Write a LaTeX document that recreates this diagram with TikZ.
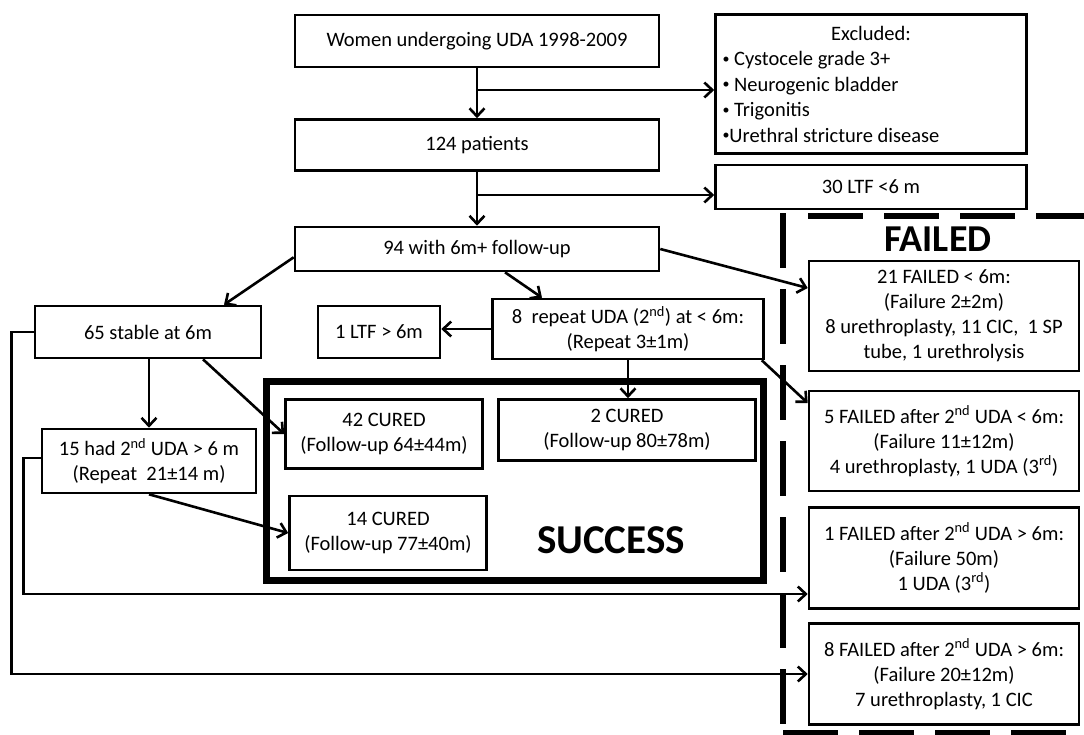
\documentclass[tikz,border=0pt]{standalone}
\usepackage{fontspec}
\setmainfont{Carlito}
\usetikzlibrary{arrows.meta}
\newcommand{\boxfont}{\fontsize{20.5}{25}\selectfont}
\newcommand{\smallbullet}{\raisebox{0.12em}{\fontsize{14}{14}\selectfont •}}

\begin{document}
\begin{tikzpicture}[x=1pt,y=-1pt]
\tikzstyle{block} = [rectangle, draw, line width=2.6pt, align=center,
inner sep=0pt, font=\boxfont]
\tikzstyle{line} = [draw, line width=2.6pt, -{Straight Barb[length=8pt,width=15pt]}]
\tikzstyle{succframe} = [draw, line width=7pt]
\tikzstyle{faildash} = [draw, line width=6pt, dash pattern=on 55pt off 21pt]
\tikzstyle{bigword} = [font=\fontsize{41}{41}\selectfont\bfseries]

\useasboundingbox (0,0) rectangle (1084,734);

% top column
\node [block, minimum width=364pt, minimum height=52pt] (women) at (477,41) {Women undergoing UDA 1998-2009};
\node [block, minimum width=364pt, minimum height=51pt] (pat124) at (477,145) {124 patients};
\node [block, minimum width=364pt, minimum height=44pt] (fu94) at (477,249) {94 with 6m+ follow-up};
\node [block, minimum width=311pt, minimum height=139pt, text width=297pt, align=flush left,
font=\fontsize{20.5}{25.5}\selectfont] (excl) at (871,84)
{\makebox[\linewidth]{Excluded:}\\ \smallbullet\ Cystocele grade 3+\\ \smallbullet\ Neurogenic bladder\\ \smallbullet\ Trigonitis\\ \smallbullet Urethral stricture disease};
\node [block, minimum width=311pt, minimum height=44pt] (ltf30) at (871,187) {30 LTF <6 m};

% second row
\node [block, minimum width=226pt, minimum height=52pt] (stable65) at (148,332) {65 stable at 6m};
\node [block, minimum width=122pt, minimum height=52pt] (ltf1) at (379,332) {1 LTF > 6m};
\node [block, minimum width=271pt, minimum height=60pt] (rep8) at (628,329) {8 \ repeat UDA (2\textsuperscript{nd}) at < 6m:\\(Repeat 3±1m)};

% success
\draw [succframe] (266.5,381.5) rectangle (763.5,580.5);
\node [block, minimum width=197pt, minimum height=69pt] (cured42) at (384,434) {42 CURED\\(Follow-up 64±44m)};
\node [block, minimum width=257pt, minimum height=61pt] (cured2) at (627,430) {2 CURED\\(Follow-up 80±78m)};
\node [block, minimum width=214pt, minimum height=64pt] (had15) at (149,461) {15 had 2\textsuperscript{nd} UDA > 6 m\\(Repeat \ 21±14 m)};
\node [block, minimum width=197pt, minimum height=74pt] (cured14) at (388,533) {14 CURED\\(Follow-up 77±40m)};
\node [bigword] (succ) at (611,540) {SUCCESS};

% failed
\draw [faildash] (808,216) -- (1100,216);
\draw [faildash] (783,213) -- (783,740);
\draw [faildash] (783,733) -- (1100,733);
\node [bigword, font=\fontsize{38}{38}\selectfont\bfseries] (fail) at (938,239) {FAILED};
\node [block, minimum width=270pt, minimum height=110pt] (failed21) at (944,316)
{21 FAILED < 6m:\\(Failure 2±2m)\\8 urethroplasty, 11 CIC, \ 1 SP\\tube, 1 urethrolysis};
\node [block, minimum width=270pt, minimum height=100pt] (failed5) at (944,441)
{5 FAILED after 2\textsuperscript{nd} UDA < 6m:\\(Failure 11±12m)\\4 urethroplasty, 1 UDA (3\textsuperscript{rd})};
\node [block, minimum width=270pt, minimum height=101pt] (failed1) at (944,558)
{1 FAILED after 2\textsuperscript{nd} UDA > 6m:\\(Failure 50m)\\1 UDA (3\textsuperscript{rd})};
\node [block, minimum width=270pt, minimum height=101pt] (failed8) at (944,674)
{8 FAILED after 2\textsuperscript{nd} UDA > 6m:\\(Failure 20±12m)\\7 urethroplasty, 1 CIC};

% arrows
\draw [line] (women) -- (pat124);
\draw [line] (women.south |- 0,90) -- (excl.west |- 0,90);
\draw [line] (pat124) -- (fu94);
\draw [line] (pat124.south |- 0,195) -- (ltf30.west |- 0,195);
\draw [line] ([yshift=15pt]fu94.south west) -- ([xshift=76pt]stable65.north);
\draw [line] ([xshift=28pt]fu94.south) -- ([xshift=-86pt]rep8.north);
\draw [line] (fu94.east) -- ([yshift=28pt]failed21.west);
\draw [line] (rep8.west) -- (rep8.west -| ltf1.east);
\draw [line] (rep8.south) -- (rep8.south |- cured2.north);
\draw [line] ([xshift=-3pt]rep8.south east) -- ([yshift=38pt]failed5.west);
\draw [line] (stable65.south -| had15.north) -- (had15.north);
\draw [line] ([xshift=55pt]stable65.south) -- (cured42.west);
\draw [line] (had15.south) -- (cured14.west);
\draw [line] ([yshift=3pt]had15.west) -- ++(-17,0) |- ([yshift=-36pt]failed1.west);
\draw [line] (stable65.west) -- ++(-22,0) |- (failed8.west);
\end{tikzpicture}
\end{document}
